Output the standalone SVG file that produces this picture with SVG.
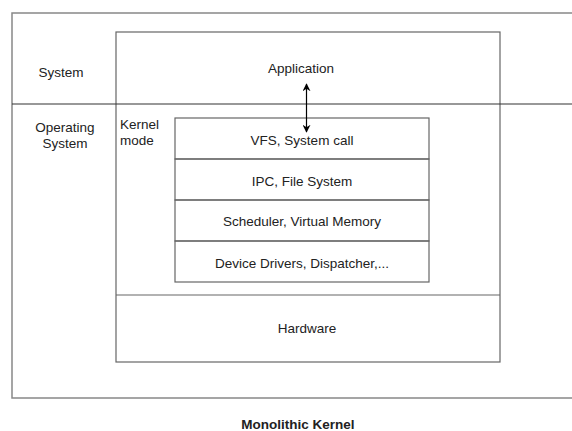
<svg xmlns="http://www.w3.org/2000/svg" width="572" height="431" viewBox="0 0 572 431">
<defs>
<marker id="ah" viewBox="0 0 10 10" refX="9" refY="5" markerWidth="8" markerHeight="8" orient="auto-start-reverse" markerUnits="userSpaceOnUse">
<path d="M0,0 L10,5 L0,10 L3,5 z" fill="#000"/>
</marker>
</defs>
<style>
text{font-family:"Liberation Sans",Arial,sans-serif;font-size:13.5px;fill:#222}
.c{text-anchor:middle}
.box{fill:none;stroke:#666;stroke-width:1.2}
.outer{fill:none;stroke:#888;stroke-width:1.5}
</style>
<rect width="572" height="431" fill="#fff"/>
<g id="outer">
<path class="outer" d="M572,13 H12 V398 H572"/>
</g>
<g id="application">
<rect class="box" x="116" y="32" width="384" height="330"/>
<text class="c" x="301" y="73">Application</text>
</g>
<g id="separator">
<line x1="12" y1="104" x2="572" y2="104" stroke="#333" stroke-width="1.2"/>
</g>
<g id="system-label">
<text class="c" x="61" y="77">System</text>
</g>
<g id="os-label">
<text class="c" x="65" y="132">Operating</text>
<text class="c" x="65" y="148">System</text>
</g>
<g id="kernel-label">
<text x="120" y="129">Kernel</text>
<text x="120" y="145">mode</text>
</g>
<g id="vfs">
<rect class="box" x="175" y="118" width="254" height="41"/>
<text class="c" x="302" y="145">VFS, System call</text>
</g>
<g id="ipc">
<rect class="box" x="175" y="159" width="254" height="41"/>
<text class="c" x="302" y="186">IPC, File System</text>
</g>
<g id="scheduler">
<rect class="box" x="175" y="200" width="254" height="41"/>
<text class="c" x="302" y="226">Scheduler, Virtual Memory</text>
</g>
<g id="drivers">
<rect class="box" x="175" y="241" width="254" height="41"/>
<text class="c" x="302" y="268">Device Drivers, Dispatcher,...</text>
</g>
<g id="hardware">
<line x1="116" y1="295" x2="500" y2="295" stroke="#666" stroke-width="1.2"/>
<text class="c" x="307" y="333">Hardware</text>
</g>
<g id="connectors">
<line x1="306.5" y1="84" x2="306.5" y2="132" stroke="#000" stroke-width="1.2" marker-start="url(#ah)" marker-end="url(#ah)"/>
</g>
<g id="title">
<text class="c" x="298" y="429" style="font-weight:bold">Monolithic Kernel</text>
</g>
</svg>
